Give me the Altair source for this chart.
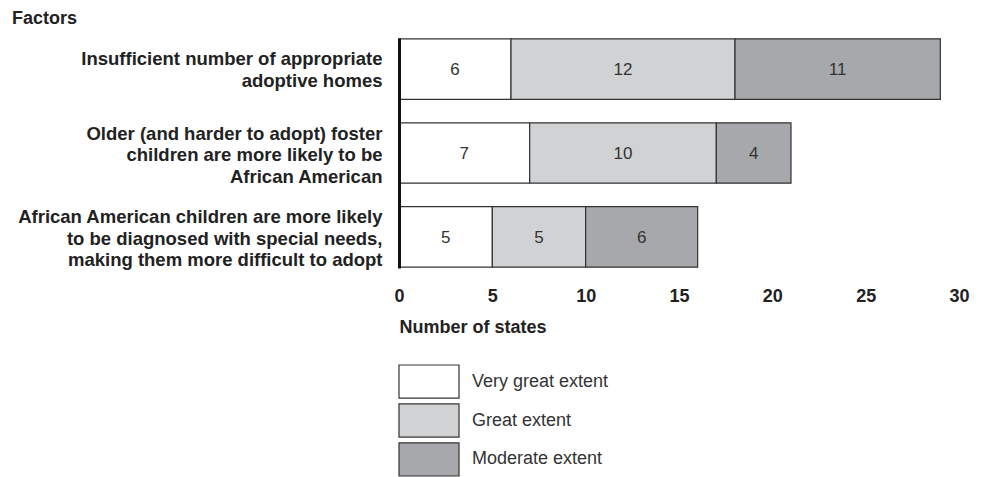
import altair as alt
import pandas as pd

factors = [
    "Insufficient number of appropriate|adoptive homes",
    "Older (and harder to adopt) foster|children are more likely to be|African American",
    "African American children are more likely|to be diagnosed with special needs,|making them more difficult to adopt",
]
extents = ["Very great extent", "Great extent", "Moderate extent"]
very_great = [6, 7, 5]
great = [12, 10, 5]
moderate = [11, 4, 6]
colors = ["#ffffff", "#d1d2d4", "#a7a8ab"]
x_ticks = [0, 5, 10, 15, 20, 25, 30]

rows = []
for i, f in enumerate(factors):
    start = 0
    for e, vals in zip(extents, [very_great, great, moderate]):
        v = vals[i]
        rows.append({"factor": f, "extent": e, "value": v, "start": start, "end": start + v,
                     "mid": start + v / 2})
        start += v
df = pd.DataFrame(rows)
legend_df = pd.DataFrame({"extent": extents})

color = alt.Color("extent:N", scale=alt.Scale(domain=extents, range=colors), legend=None)
yscale = alt.Scale(domain=factors, paddingInner=0.28, paddingOuter=0.01)
line_h = 21.5

bars = alt.Chart(df).mark_rect(stroke="#333333", strokeWidth=1.2).encode(
    x=alt.X("start:Q", scale=alt.Scale(domain=[0, 30]),
            axis=alt.Axis(values=x_ticks, grid=False, domain=False, ticks=False,
                          labelPadding=19, labelFontWeight="bold", labelFontSize=18,
                          labelColor="#222222", labelFlush=False,
                          title="Number of states", titleAnchor="start", titleAlign="left",
                          titleFontSize=18, titleFontWeight="bold", titleColor="#222222",
                          titlePadding=13)),
    x2="end:Q",
    y=alt.Y("factor:N", sort=factors, scale=yscale,
            axis=alt.Axis(title=None, labelExpr="split(datum.value, '|')",
                          labelFontWeight="bold", labelFontSize=18.5, labelColor="#222222",
                          labelAlign="right", labelPadding=17, ticks=False,
                          labelLineHeight=line_h, labelLimit=600,
                          labelOffset={"condition": {"test": "length(split(datum.value, '|')) == 2",
                                                     "value": -line_h / 2 + 1},
                                       "value": -line_h + 2},
                          domainWidth=3, domainColor="#111111")),
    color=color,
)

labels = alt.Chart(df).mark_text(fontSize=17, color="#333333", dy=1).encode(
    x=alt.X("mid:Q"),
    y=alt.Y("factor:N", sort=factors, scale=yscale),
    text=alt.Text("value:Q"),
)

leg_y = alt.Y("extent:N", sort=extents,
              scale=alt.Scale(domain=extents, range=[327, 438], paddingInner=0.15, paddingOuter=0),
              axis=None)
leg_rect = alt.Chart(legend_df).mark_rect(stroke="#333333", strokeWidth=1.2).encode(
    x=alt.value(0), x2=alt.value(60), y=leg_y, color=color,
)
leg_text = alt.Chart(legend_df).mark_text(align="left", fontSize=18, color="#333333").encode(
    x=alt.value(73), y=leg_y, text="extent:N",
)

main = alt.layer(bars, labels)
legend = alt.layer(leg_rect, leg_text)

chart = alt.layer(main, legend).resolve_scale(y="independent").properties(
    width=560, height=230,
    title=alt.Title("Factors", anchor="start", frame="bounds", fontSize=18,
                    fontWeight="bold", color="#222222", offset=10, dx=-5),
    padding={"left": 3, "top": 2, "right": 5, "bottom": 0},
).configure(font="Liberation Sans").configure_view(stroke=None)

chart.save("out.html", embed_options={"renderer": "svg", "actions": False})
